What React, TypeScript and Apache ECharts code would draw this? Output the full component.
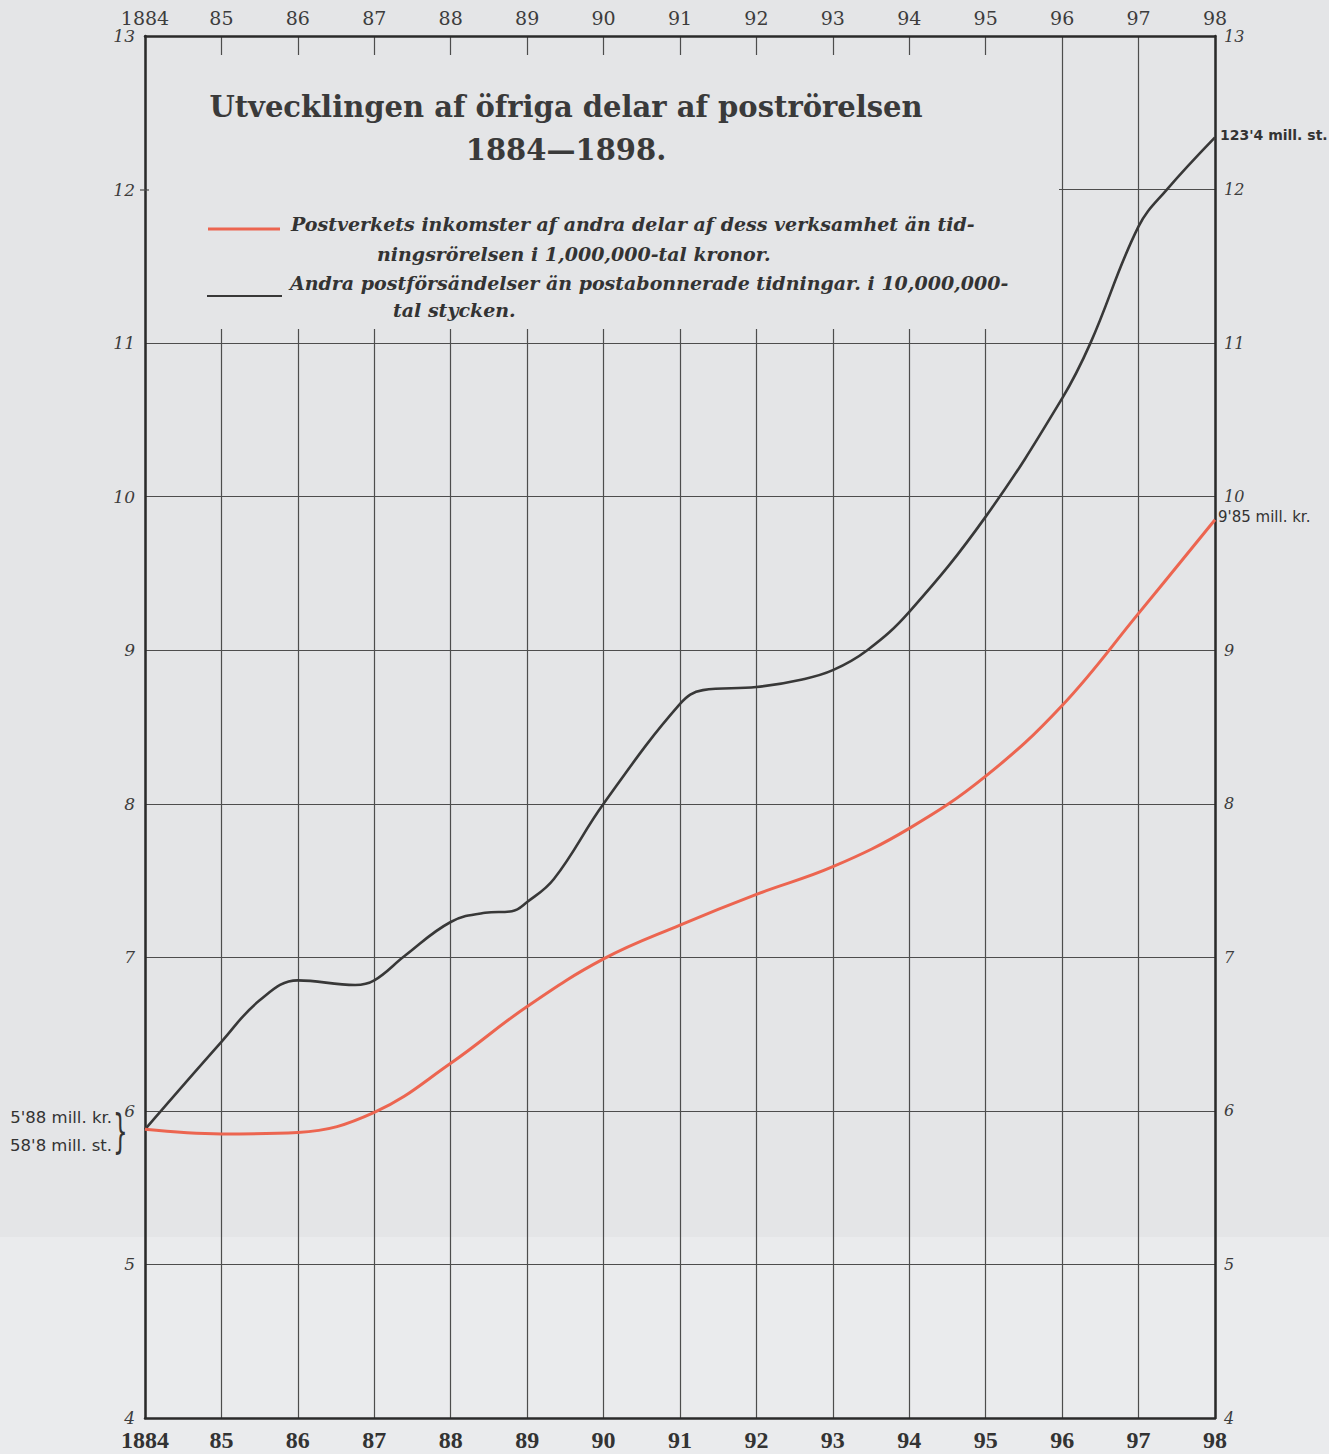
import React, { useEffect, useRef } from "react";
import * as echarts from "echarts";

const years = [1884, 1885, 1886, 1887, 1888, 1889, 1890, 1891, 1892, 1893, 1894, 1895, 1896, 1897, 1898];
const yTicks = [4, 5, 6, 7, 8, 9, 10, 11, 12, 13];

// Postverkets inkomster (1,000,000 kr)
const incomeYears = [1884, 1885, 1886, 1887, 1888, 1889, 1890, 1891, 1892, 1893, 1894, 1895, 1896, 1897, 1898];
const incomeValues = [5.88, 5.85, 5.86, 5.99, 6.31, 6.68, 6.99, 7.21, 7.41, 7.59, 7.84, 8.18, 8.64, 9.24, 9.85];

// Andra postförsändelser (10,000,000 st)
const itemYears = [1884, 1885, 1885.5, 1886, 1886.75, 1887, 1887.4, 1888, 1888.45, 1888.8, 1889, 1889.35, 1890, 1891, 1891.3, 1892, 1892.6, 1893, 1893.45, 1894, 1895, 1896, 1896.37, 1897, 1897.37, 1898];
const itemValues = [5.88, 6.45, 6.72, 6.85, 6.82, 6.85, 7.01, 7.23, 7.29, 7.3, 7.36, 7.51, 8.0, 8.65, 8.74, 8.76, 8.81, 8.87, 9.0, 9.25, 9.87, 10.64, 11.0, 11.76, 12.0, 12.34];

const titleLines = ["Utvecklingen af öfriga delar af poströrelsen", "1884—1898."];
const legendRed = ["Postverkets inkomster af andra delar af dess verksamhet än tid-", "ningsrörelsen i 1,000,000-tal kronor."];
const legendBlack = ["Andra postförsändelser än postabonnerade tidningar. i 10,000,000-", "tal stycken."];
const startNotes = ["5'88 mill. kr.", "58'8 mill. st."];
const endItems = "123'4 mill. st.";
const endIncome = "9'85 mill. kr.";

const BG = "#e4e5e7";
const INK = "#333333";
const RED = "#ec6550";

const yearLabel = (v: number) => (v === years[0] ? String(v) : String(v).slice(2));

export default function App() {
  const ref = useRef<HTMLDivElement>(null);
  useEffect(() => {
    document.body.style.margin = "0";
    document.body.style.background = BG;
    const chart = echarts.init(ref.current!, null, { renderer: "svg" });
    const serif = "DejaVu Serif";
    const option: any = {
      animation: false,
      backgroundColor: BG,
      grid: { left: 145, right: 114, top: 36, bottom: 36 },
      xAxis: [
        {
          type: "value",
          position: "bottom",
          min: years[0],
          max: years[years.length - 1],
          interval: 1,
          axisLine: { show: true, lineStyle: { color: "#2a2a2a", width: 2.5 } },
          axisTick: { show: false },
          splitLine: { show: true, lineStyle: { color: "#4d4d4d", width: 1.2 } },
          axisLabel: {
            formatter: yearLabel,
            fontFamily: "Liberation Serif",
            fontWeight: "bold",
            fontSize: 24,
            color: INK,
            margin: 10,
          },
        },
        {
          type: "value",
          position: "top",
          min: years[0],
          max: years[years.length - 1],
          interval: 1,
          axisLine: { show: true, lineStyle: { color: "#2a2a2a", width: 2.5 } },
          axisTick: { show: false },
          splitLine: { show: false },
          axisLabel: {
            formatter: yearLabel,
            fontFamily: serif,
            fontSize: 19,
            color: "#3c3c3c",
            margin: 9,
          },
        },
      ],
      yAxis: [
        {
          type: "value",
          position: "left",
          min: yTicks[0],
          max: yTicks[yTicks.length - 1],
          interval: 1,
          axisLine: { show: true, lineStyle: { color: "#2a2a2a", width: 2.5 } },
          axisTick: { show: false },
          splitLine: { show: true, lineStyle: { color: "#4d4d4d", width: 1.2 } },
          axisLabel: { fontFamily: serif, fontStyle: "italic", fontSize: 17, color: "#3c3c3c", margin: 10 },
        },
        {
          type: "value",
          position: "right",
          min: yTicks[0],
          max: yTicks[yTicks.length - 1],
          interval: 1,
          axisLine: { show: true, lineStyle: { color: "#2a2a2a", width: 2.5 } },
          axisTick: { show: false },
          splitLine: { show: false },
          axisLabel: { fontFamily: serif, fontStyle: "italic", fontSize: 16, color: "#3c3c3c", margin: 9, padding: [0, 0, 5, 0] },
        },
      ],
      series: [
        {
          type: "line",
          name: "Andra postförsändelser",
          xAxisIndex: 0,
          yAxisIndex: 0,
          data: itemYears.map((x, i) => [x, itemValues[i]]),
          showSymbol: false,
          smooth: 0.4,
          lineStyle: { color: "#383838", width: 2.6 },
          z: 4,
        },
        {
          type: "line",
          name: "Postverkets inkomster",
          xAxisIndex: 0,
          yAxisIndex: 0,
          data: incomeYears.map((x, i) => [x, incomeValues[i]]),
          showSymbol: false,
          smooth: 0.4,
          lineStyle: { color: RED, width: 3 },
          z: 5,
        },
      ],
      graphic: [
        { type: "rect", z: -10, silent: true, shape: { x: 0, y: 1237, width: 1329, height: 217 }, style: { fill: "#eaebed" } },
        { type: "rect", z: 1, silent: true, shape: { x: 147, y: 55, width: 912, height: 274 }, style: { fill: BG } },
        { type: "line", z: 6, shape: { x1: 140, y1: 190, x2: 149, y2: 190 }, style: { stroke: "#4d4d4d", lineWidth: 1.2 } },
        {
          type: "text", z: 6, x: 566, y: 107,
          style: { text: titleLines[0], fontFamily: serif, fontWeight: "bold", fontSize: 29, fill: "#3a3a3a", align: "center", verticalAlign: "middle" },
        },
        {
          type: "text", z: 6, x: 566, y: 150,
          style: { text: titleLines[1], fontFamily: serif, fontWeight: "bold", fontSize: 29, fill: "#3a3a3a", align: "center", verticalAlign: "middle" },
        },
        { type: "line", z: 6, shape: { x1: 208, y1: 229, x2: 280, y2: 229 }, style: { stroke: RED, lineWidth: 3 } },
        { type: "line", z: 6, shape: { x1: 207, y1: 296, x2: 282, y2: 296 }, style: { stroke: "#383838", lineWidth: 2 } },
        {
          type: "text", z: 6, x: 291, y: 224,
          style: { text: legendRed[0], fontFamily: serif, fontWeight: "bold", fontStyle: "italic", fontSize: 19, fill: INK, align: "left", verticalAlign: "middle" },
        },
        {
          type: "text", z: 6, x: 377, y: 254,
          style: { text: legendRed[1], fontFamily: serif, fontWeight: "bold", fontStyle: "italic", fontSize: 19, fill: INK, align: "left", verticalAlign: "middle" },
        },
        {
          type: "text", z: 6, x: 290, y: 283,
          style: { text: legendBlack[0], fontFamily: serif, fontWeight: "bold", fontStyle: "italic", fontSize: 19, fill: INK, align: "left", verticalAlign: "middle" },
        },
        {
          type: "text", z: 6, x: 393, y: 310,
          style: { text: legendBlack[1], fontFamily: serif, fontWeight: "bold", fontStyle: "italic", fontSize: 19, fill: INK, align: "left", verticalAlign: "middle" },
        },
        {
          type: "text", z: 6, x: 112, y: 1117,
          style: { text: startNotes[0], fontFamily: "DejaVu Sans", fontSize: 16.5, fill: INK, align: "right", verticalAlign: "middle" },
        },
        {
          type: "text", z: 6, x: 112, y: 1145,
          style: { text: startNotes[1], fontFamily: "DejaVu Sans", fontSize: 16.5, fill: INK, align: "right", verticalAlign: "middle" },
        },
        {
          type: "text", z: 6, x: 113, y: 1131, scaleX: 0.5,
          style: { text: "}", fontFamily: "DejaVu Sans", fontSize: 46, fill: INK, align: "left", verticalAlign: "middle" },
        },
        {
          type: "text", z: 6, x: 1220, y: 135,
          style: { text: endItems, fontFamily: "DejaVu Sans", fontWeight: "bold", fontSize: 14, fill: INK, align: "left", verticalAlign: "middle" },
        },
        {
          type: "text", z: 6, x: 1218, y: 517,
          style: { text: endIncome, fontFamily: "DejaVu Sans", fontSize: 15, fill: INK, align: "left", verticalAlign: "middle" },
        },
      ],
    };
    chart.setOption(option);
    return () => chart.dispose();
  }, []);
  return <div ref={ref} style={{ width: 1329, height: 1454 }} />;
}
